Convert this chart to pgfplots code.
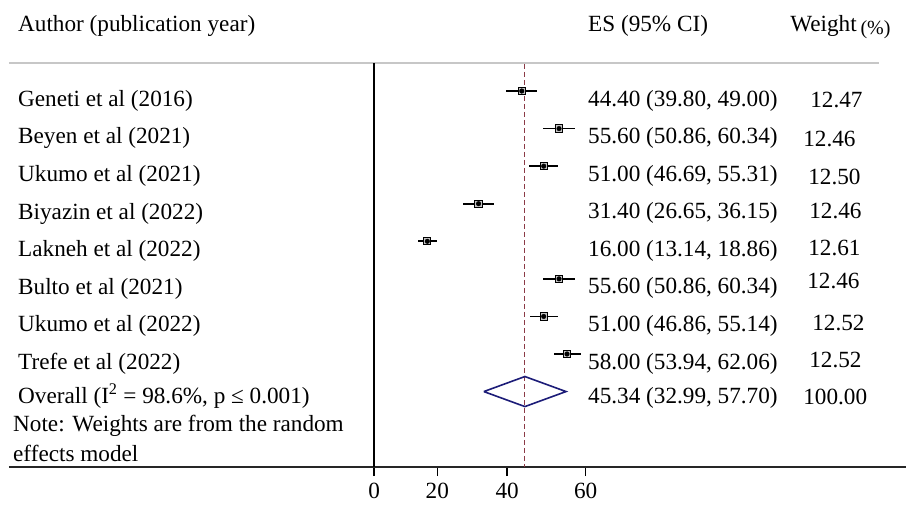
\documentclass[border=0pt]{standalone}
\usepackage{fontspec}
\setmainfont{Liberation Serif}
\usepackage{pgfplots}
\pgfplotsset{compat=1.18}
\usepackage{pgfplotstable}

\definecolor{refline}{HTML}{8B3A46}
\definecolor{diamond}{HTML}{1C1C78}
\definecolor{wbox}{HTML}{C4C4C4}

% row (negative, top to bottom), ES, lower, upper
\pgfplotstableread{
row es lo hi
-1 44.40 39.80 49.00
-2 55.60 50.86 60.34
-3 51.00 46.69 55.31
-4 31.40 26.65 36.15
-5 16.00 13.14 18.86
-6 55.60 50.86 60.34
-7 51.00 46.86 55.14
-8 58.00 53.94 62.06
}\studies

\begin{document}
\begin{tikzpicture}[font=\fontsize{23.2}{28}\selectfont]
\path[use as bounding box] (-9pt,-37pt) rectangle (897pt,467pt);
\begin{axis}[
  scale only axis, width=897pt, height=467pt,
  xmin=-109.77, xmax=159.92,
  ymin=-11.008, ymax=1.4224,
  axis x line*=bottom, axis y line=none,
  x axis line style={draw=black!85, line width=1.6pt},
  xtick={0,19,40,63.6}, xticklabels={0,20,40,60},
  xtick pos=lower, xtick align=outside, major tick length=9pt,
  tick style={black, line width=1.3pt},
  ytick=\empty,
  xticklabel style={font=\fontsize{23.2}{28}\selectfont, yshift=-4pt},
  clip=false,
]
% frame lines
\draw[black!22, line width=1.5pt] (axis cs:-109.77,-0.2547) -- (axis cs:151.8,-0.2547);
\draw[black, line width=1.3pt] (axis cs:0,-0.2547) -- (axis cs:0,-11.008);
% overall estimate
\addplot[refline, line width=1.1pt, dash pattern=on 5pt off 3pt] coordinates {(45.34,-0.281) (45.34,-11.008)};
% study estimates with CI
\addplot[only marks, black, line width=1.7pt, mark=square*, mark size=3.6pt, mark options={fill=wbox, draw=none, line width=0pt},
  error bars/.cd, x dir=both, x explicit, error mark=none,
  error bar style={black, solid, line width=1.7pt}]
  table[x=es, y=row, x error plus expr=\thisrow{hi}-\thisrow{es}, x error minus expr=\thisrow{es}-\thisrow{lo}] {\studies};
\addplot[only marks, mark=*, mark size=2.3pt, mark options={fill=black, draw=none}] table[x=es, y=row] {\studies};
% pooled diamond
\addplot[diamond, line width=1.6pt] coordinates {(32.99,-9) (45.34,-8.6) (57.70,-9) (45.34,-9.4) (32.99,-9)};

\tikzset{lbl/.style={anchor=base west, inner sep=0pt}}
% headers
\node[lbl] at (axis cs:-107.07,0.581) {Author (publication year)};
\node[lbl] at (axis cs:64.31,0.581) {ES (95\% CI)};
\node[lbl] at (axis cs:125.07,0.581) {Weight\,\raisebox{-3pt}{\fontsize{20}{24}\selectfont(\%)}};
% study names
\node[lbl] at (axis cs:-107.07,-1.41) {Geneti et al (2016)};
\node[lbl] at (axis cs:-107.07,-2.41) {Beyen et al (2021)};
\node[lbl] at (axis cs:-107.07,-3.41) {Ukumo et al (2021)};
\node[lbl] at (axis cs:-107.07,-4.41) {Biyazin et al (2022)};
\node[lbl] at (axis cs:-107.07,-5.41) {Lakneh et al (2022)};
\node[lbl] at (axis cs:-107.07,-6.41) {Bulto et al (2021)};
\node[lbl] at (axis cs:-107.07,-7.41) {Ukumo et al (2022)};
\node[lbl] at (axis cs:-107.07,-8.41) {Trefe et al (2022)};
\node[lbl] at (axis cs:-107.07,-9.32) {Overall (I\textsuperscript{2} = 98.6\%, p ≤ 0.001)};
\node[lbl] at (axis cs:-108.57,-10.05) {Note: Weights are from the random};
\node[lbl] at (axis cs:-108.57,-10.85) {effects model};
% ES column
\node[lbl] at (axis cs:64.31,-1.40) {44.40 (39.80, 49.00)};
\node[lbl] at (axis cs:64.31,-2.40) {55.60 (50.86, 60.34)};
\node[lbl] at (axis cs:64.31,-3.40) {51.00 (46.69, 55.31)};
\node[lbl] at (axis cs:64.31,-4.40) {31.40 (26.65, 36.15)};
\node[lbl] at (axis cs:64.31,-5.40) {16.00 (13.14, 18.86)};
\node[lbl] at (axis cs:64.31,-6.40) {55.60 (50.86, 60.34)};
\node[lbl] at (axis cs:64.31,-7.40) {51.00 (46.86, 55.14)};
\node[lbl] at (axis cs:64.31,-8.40) {58.00 (53.94, 62.06)};
\node[lbl] at (axis cs:64.31,-9.32) {45.34 (32.99, 57.70)};
% weights
\node[lbl] at (axis cs:131.09,-1.439) {12.47};
\node[lbl] at (axis cs:128.99,-2.477) {12.46};
\node[lbl] at (axis cs:130.49,-3.489) {12.50};
\node[lbl] at (axis cs:130.79,-4.394) {12.46};
\node[lbl] at (axis cs:130.49,-5.378) {12.61};
\node[lbl] at (axis cs:130.19,-6.257) {12.46};
\node[lbl] at (axis cs:131.69,-7.375) {12.52};
\node[lbl] at (axis cs:130.79,-8.360) {12.52};
\node[lbl] at (axis cs:128.99,-9.344) {100.00};
\end{axis}
\end{tikzpicture}
\end{document}
